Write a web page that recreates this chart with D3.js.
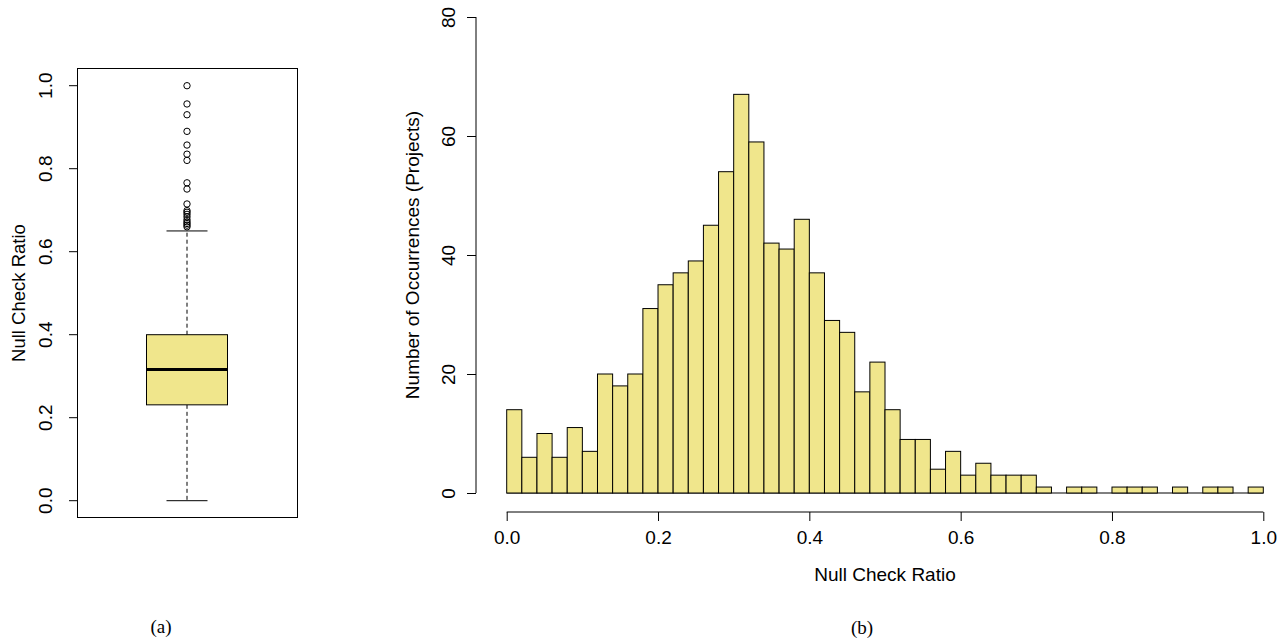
<!DOCTYPE html>
<html>
<head>
<meta charset="utf-8">
<script src="https://cdn.jsdelivr.net/npm/d3@7"></script>
<style>
  body { margin: 0; background: #fff; }
  svg { display: block; }
  text { font-family: "Liberation Sans", Arial, sans-serif; fill: #000; }
  .caption { font-family: "Liberation Serif", "Times New Roman", serif; font-size: 19px; }
</style>
</head>
<body>
<svg id="chart" width="1284" height="641"></svg>
<script>
// boxplot summary (a)
var boxStats = { low: 0.0, q1: 0.231, median: 0.316, q3: 0.40, high: 0.65 };
var outliers = [0.660, 0.664, 0.668, 0.672, 0.677, 0.684, 0.690, 0.695, 0.699, 0.715,
                0.751, 0.766, 0.820, 0.835, 0.857, 0.890, 0.930, 0.956, 1.0];
var boxTicks = [0.0, 0.2, 0.4, 0.6, 0.8, 1.0];

// histogram (b), 50 bins of width 0.02 from 0 to 1
var binWidth = 0.02;
var binCounts = [14, 6, 10, 6, 11, 7, 20, 18, 20, 31,
                 35, 37, 39, 45, 54, 67, 59, 42, 41, 46,
                 37, 29, 27, 17, 22, 14, 9, 9, 4, 7,
                 3, 5, 3, 3, 3, 1, 0, 1, 1, 0,
                 1, 1, 1, 0, 1, 0, 1, 1, 0, 1];
var histXTicks = [0.0, 0.2, 0.4, 0.6, 0.8, 1.0];
var histYTicks = [0, 20, 40, 60, 80];

var svg = d3.select('#chart');
var fmt1 = d3.format('.1f');

// ---------- (a) boxplot ----------
var boxFrame = { left: 77, right: 297, top: 68, bottom: 517 };
var yBox = d3.scaleLinear().domain([0, 1]).range([500.7, 85.7]);
var cx = 187, boxHalf = 40.5, capHalf = 20.5;

var gBox = svg.append('g');

gBox.append('rect')
    .attr('x', boxFrame.left + 0.5)
    .attr('y', boxFrame.top + 0.5)
    .attr('width', boxFrame.right - boxFrame.left)
    .attr('height', boxFrame.bottom - boxFrame.top)
    .attr('fill', 'none')
    .attr('stroke', '#000');

// whiskers
gBox.append('line')
    .attr('x1', cx).attr('x2', cx)
    .attr('y1', yBox(boxStats.q3)).attr('y2', yBox(boxStats.high))
    .attr('stroke', '#000').attr('stroke-dasharray', '4,3');
gBox.append('line')
    .attr('x1', cx).attr('x2', cx)
    .attr('y1', yBox(boxStats.q1)).attr('y2', yBox(boxStats.low))
    .attr('stroke', '#000').attr('stroke-dasharray', '4,3');

[boxStats.low, boxStats.high].forEach(function (v) {
    gBox.append('line')
        .attr('x1', cx - capHalf).attr('x2', cx + capHalf)
        .attr('y1', yBox(v)).attr('y2', yBox(v))
        .attr('stroke', '#000');
});

gBox.append('rect')
    .attr('x', cx - boxHalf)
    .attr('y', yBox(boxStats.q3))
    .attr('width', boxHalf * 2)
    .attr('height', yBox(boxStats.q1) - yBox(boxStats.q3))
    .attr('fill', 'khaki')
    .attr('stroke', '#000');

gBox.append('line')
    .attr('x1', cx - boxHalf).attr('x2', cx + boxHalf)
    .attr('y1', yBox(boxStats.median)).attr('y2', yBox(boxStats.median))
    .attr('stroke', '#000').attr('stroke-width', 3);

gBox.selectAll('circle')
    .data(outliers)
    .enter().append('circle')
    .attr('cx', cx)
    .attr('cy', function (d) { return yBox(d); })
    .attr('r', 3.2)
    .attr('fill', 'none')
    .attr('stroke', '#000');

// y axis ticks (a)
var boxAxis = gBox.selectAll('.btick')
    .data(boxTicks)
    .enter().append('g')
    .attr('class', 'btick');
boxAxis.append('line')
    .attr('x1', 69).attr('x2', boxFrame.left)
    .attr('y1', function (d) { return yBox(d); })
    .attr('y2', function (d) { return yBox(d); })
    .attr('stroke', '#000');
boxAxis.append('text')
    .attr('transform', function (d) { return 'translate(52,' + yBox(d) + ') rotate(-90)'; })
    .attr('text-anchor', 'middle')
    .style('font-size', '19px')
    .text(function (d) { return fmt1(d); });

gBox.append('text')
    .attr('transform', 'translate(25,' + 293 + ') rotate(-90)')
    .attr('text-anchor', 'middle')
    .style('font-size', '18.5px')
    .text('Null Check Ratio');

svg.append('text')
    .attr('class', 'caption')
    .attr('x', 161).attr('y', 633)
    .attr('text-anchor', 'middle')
    .text('(a)');

// ---------- (b) histogram ----------
var xHist = d3.scaleLinear().domain([0, 1]).range([506.7, 1263.3]);
var yHist = d3.scaleLinear().domain([0, 80]).range([493, 17]);

var gHist = svg.append('g');

// empty bins still leave a flat edge along the baseline
gHist.selectAll('.empty')
    .data(binCounts)
    .enter().append('line')
    .attr('class', 'empty')
    .attr('x1', function (d, i) { return xHist(i * binWidth); })
    .attr('x2', function (d, i) { return xHist((i + 1) * binWidth); })
    .attr('y1', yHist(0)).attr('y2', yHist(0))
    .attr('stroke', '#000');

gHist.selectAll('rect')
    .data(binCounts)
    .enter().append('rect')
    .attr('x', function (d, i) { return xHist(i * binWidth); })
    .attr('y', function (d) { return yHist(d); })
    .attr('width', function (d, i) { return xHist((i + 1) * binWidth) - xHist(i * binWidth); })
    .attr('height', function (d) { return yHist(0) - yHist(d); })
    .attr('fill', 'khaki')
    .attr('stroke', '#000')
    .attr('stroke-width', 1);

// y axis (b)
var yAxis = d3.axisLeft(yHist)
    .tickValues(histYTicks)
    .tickSize(9)
    .tickFormat(d3.format('d'));
var gy = gHist.append('g')
    .attr('transform', 'translate(476,0)')
    .call(yAxis);
gy.select('.domain').attr('d', 'M0,' + yHist(0) + 'V' + yHist(80));
gy.selectAll('text')
    .attr('x', null).attr('dy', null)
    .attr('transform', 'translate(-21,0) rotate(-90)')
    .attr('text-anchor', 'middle')
    .style('font-size', '19px')
    .style('font-family', '"Liberation Sans", Arial, sans-serif');

// x axis (b)
var xAxis = d3.axisBottom(xHist)
    .tickValues(histXTicks)
    .tickSize(9)
    .tickFormat(fmt1);
var gx = gHist.append('g')
    .attr('transform', 'translate(0,512)')
    .call(xAxis);
gx.select('.domain').attr('d', 'M' + xHist(0) + ',0H' + xHist(1));
gx.selectAll('text')
    .attr('dy', null)
    .attr('y', 32)
    .style('font-size', '19px')
    .style('font-family', '"Liberation Sans", Arial, sans-serif');

gHist.append('text')
    .attr('x', xHist(0.5)).attr('y', 581)
    .attr('text-anchor', 'middle')
    .style('font-size', '19px')
    .text('Null Check Ratio');

gHist.append('text')
    .attr('transform', 'translate(419,' + yHist(40) + ') rotate(-90)')
    .attr('text-anchor', 'middle')
    .style('font-size', '19px')
    .text('Number of Occurrences (Projects)');

svg.append('text')
    .attr('class', 'caption')
    .attr('x', 862).attr('y', 634)
    .attr('text-anchor', 'middle')
    .text('(b)');
</script>
</body>
</html>
